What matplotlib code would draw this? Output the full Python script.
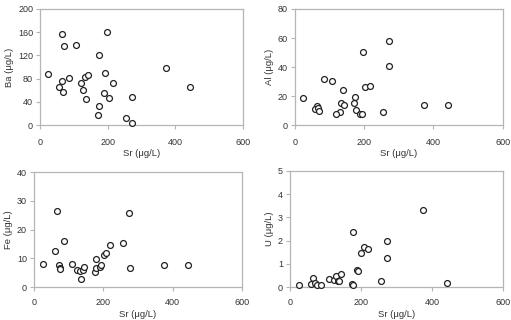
import matplotlib
matplotlib.use("Agg")
import matplotlib.pyplot as plt

plt.rcParams['font.family'] = ['Liberation Sans', 'DejaVu Sans']

# Ba vs Sr
sr_ba = [25, 66, 72, 107, 198, 174, 373, 86, 64, 57, 69, 120, 134, 141, 128, 137,
         191, 217, 188, 205, 175, 172, 254, 271, 273, 442]
ba = [87.6, 156.8, 136, 137.7, 160.8, 121, 98, 81.8, 76, 65.7, 56.5, 72.6, 83.6, 85.9,
      61, 44.4, 90, 72.6, 54.8, 46, 32.9, 16.7, 11.5, 2.9, 47.8, 65.7]

# Al vs Sr
sr_al = [23, 84, 108, 196, 272, 272, 203, 217, 138, 173, 171, 176, 188, 193, 133, 143,
         129, 120, 63, 57, 66, 71, 254, 374, 442]
al = [18.4, 31.5, 30.1, 50.3, 57.7, 40.5, 26.4, 26.9, 24.4, 19.3, 14.9, 10.3, 7.6, 7.4,
      14.9, 13.8, 9.2, 7.4, 13.3, 11, 11.5, 9.7, 9, 13.8, 13.8]

# Fe vs Sr
sr_fe = [27, 67, 61, 88, 71, 74, 76, 111, 124, 132, 136, 142, 144, 176, 180, 180, 190,
         194, 201, 209, 220, 256, 275, 276, 376, 445]
fe = [8.0, 26.4, 12.6, 15.9, 7.6, 6.7, 6.3, 8.0, 6.0, 5.6, 2.7, 6.0, 7.1, 5.3, 9.9, 6.5,
      7.1, 7.8, 11.1, 11.9, 14.5, 15.2, 25.7, 6.6, 7.7, 7.5]

# U vs Sr
sr_u = [26, 59, 66, 70, 77, 87, 110, 123, 131, 136, 139, 143, 174, 177, 177, 189, 193,
        199, 208, 219, 256, 273, 273, 375, 443]
u = [0.09, 0.12, 0.37, 0.19, 0.09, 0.09, 0.35, 0.30, 0.48, 0.27, 0.27, 0.58, 0.13, 0.09,
     2.38, 0.73, 0.68, 1.46, 1.71, 1.64, 0.27, 1.99, 1.27, 3.30, 0.16]

x_ticks = [0, 200, 400, 600]
panels = [
    (sr_ba, ba, 'Ba', [0, 40, 80, 120, 160, 200], [0.0783, 0.609, 0.3972, 0.363], 6),
    (sr_al, al, 'Al', [0, 20, 40, 60, 80], [0.577, 0.609, 0.407, 0.363], 6),
    (sr_fe, fe, 'Fe', [0, 10, 20, 30, 40], [0.0665, 0.103, 0.4071, 0.3595], 5),
    (sr_u, u, 'U', [0, 1, 2, 3, 4, 5], [0.5675, 0.103, 0.4165, 0.363], 5),
]

fig = plt.figure(figsize=(5.11, 3.2), dpi=100)
txt = '#333333'
spine = '#b5b5b5'
for xs, ys, name, yt, pos, xpad in panels:
    ax = fig.add_axes(pos)
    ax.scatter(xs, ys, s=18, facecolors='white', edgecolors='#222222', linewidths=0.9,
               zorder=3, clip_on=False)
    ax.set_xlim(0, 600)
    ax.set_ylim(yt[0], yt[-1])
    ax.set_xticks(x_ticks)
    ax.set_yticks(yt)
    for s in ax.spines.values():
        s.set_color(spine)
        s.set_linewidth(0.9)
    ax.tick_params(axis='both', colors=spine, labelcolor=txt, labelsize=6.5,
                   length=3, width=0.8, direction='out', pad=2)
    ax.tick_params(axis='x', pad=xpad)
    ax.set_xlabel('Sr (μg/L)', fontsize=6.8, color=txt, labelpad=2)
    ax.set_ylabel(f'{name} (μg/L)', fontsize=6.8, color=txt, labelpad=3)

fig.savefig('out.png', dpi=100)
